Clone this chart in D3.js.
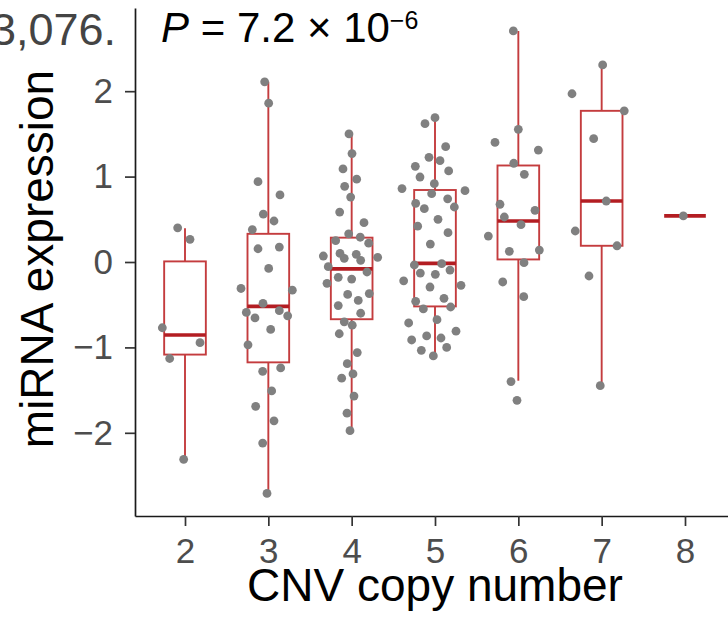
<!DOCTYPE html>
<html>
<head>
<meta charset="utf-8">
<script src="https://cdn.jsdelivr.net/npm/d3@7"></script>
<style>
  body { margin: 0; background: #fff; }
  svg { display: block; }
  text { font-family: "Liberation Sans", Arial, Helvetica, sans-serif; }
</style>
</head>
<body>
<svg id="chart" width="728" height="627"></svg>
<script>
// CNV copy number groups
const copyNumbers = [2, 3, 4, 5, 6, 7, 8];

// Box summaries per copy number (miRNA expression)
const whiskerLow  = [-2.31, -2.71, -1.975, -1.10, -1.39, -1.448, 0.54];
const quartile1   = [-1.084, -1.175, -0.67, -0.52, 0.03, 0.19, 0.54];
const medians     = [-0.855, -0.52, -0.08, -0.016, 0.48, 0.714, 0.54];
const quartile3   = [0.007, 0.33, 0.285, 0.843, 1.13, 1.77, 0.54];
const whiskerHigh = [0.395, 2.11, 1.51, 1.69, 2.705, 2.307, 0.54];

// Individual samples: expression values and horizontal jitter (in copy-number units)
const cn2Values = [0.40, 0.266, -0.77, -0.945, -1.13, -2.31];
const cn2Jitter = [-0.088, 0.06, -0.272, 0.18, -0.184, -0.016];

const cn3Values = [2.11, 1.86, 0.94, 0.785, 0.56, 0.48, 0.38, 0.155, 0.175, -0.075, -0.31, -0.33, -0.485,
                   -0.59, -0.655, -0.57, -0.63, -0.79, -0.97, -1.28, -1.24, -1.51, -1.69, -1.86, -2.12, -2.71];
const cn3Jitter = [-0.044, 0.004, -0.124, 0.14, -0.06, 0.068, -0.192, -0.124, 0.132, 0.004, -0.328, 0.288, -0.064,
                   -0.264, -0.16, 0.132, 0.232, 0.028, -0.244, -0.068, 0.148, 0.04, -0.152, 0.068, -0.068, -0.016];

const cn4Values = [1.50, 1.27, 1.09, 0.97, 0.886, 0.76, 0.585, 0.46, 0.33, 0.29, 0.25, 0.22, 0.07, 0.10, 0.043,
                   0.09, 0.02, 0.055, -0.055, -0.117, -0.25, -0.18, -0.20, -0.38, -0.37, -0.51, -0.45, -0.60,
                   -0.70, -0.74, -0.84, -1.06, -1.19, -1.36, -1.31, -1.57, -1.77, -1.975];
const cn4Jitter = [-0.032, 0.004, -0.104, 0.06, -0.084, -0.012, -0.144, 0.148, -0.036, 0.103, -0.192, 0.204, -0.34,
                   -0.14, -0.089, 0.055, 0.108, 0.312, -0.281, 0.184, -0.296, -0.161, 0, -0.048, 0.211, -0.161,
                   0.079, 0.108, -0.089, 0.007, -0.149, 0.067, -0.053, -0.12, 0.016, 0.028, -0.056, -0.02];

const cn5Values = [1.69, 1.62, 1.35, 1.226, 1.186, 1.12, 1.066, 0.995, 0.917, 0.86, 0.80, 0.835, 0.687, 0.74,
                   0.624, 0.644, 0.50, 0.42, 0.343, 0.21, -0.035, -0.02, -0.13, -0.144, -0.094, -0.22, -0.273,
                   -0.293, -0.425, -0.46, -0.55, -0.527, -0.675, -0.714, -0.81, -0.866, -0.89, -0.913, -1.0,
                   -1.034, -1.10];
const cn5Jitter = [0, -0.12, 0.128, -0.072, 0.06, -0.236, 0.164, -0.18, -0.008, -0.396, -0.04, 0.36, -0.232, 0.152,
                   -0.128, 0.232, 0.036, -0.208, 0.156, -0.056, -0.248, 0.08, -0.176, 0.004, 0.18, -0.376, 0.312,
                   -0.06, 0.108, -0.232, -0.14, 0.188, 0.024, -0.316, 0.252, -0.1, 0.072, -0.28, 0.14, -0.164,
                   -0.02];

const cn6Values = [2.705, 1.554, 1.40, 1.31, 1.156, 1.027, 0.676, 0.605, 0.527, 0.437, 0.304, 0.125, 0.14,
                   -0.008, -0.234, -0.406, -1.40, -1.62];
const cn6Jitter = [-0.06, 0, -0.28, 0.24, -0.055, 0.072, -0.22, 0.2, -0.168, 0.032, -0.36, -0.108, 0.252,
                   0.068, -0.187, 0.065, -0.088, -0.016];

const cn7Values = [2.307, 1.97, 1.77, 1.444, 0.714, 0.363, 0.19, -0.164, -1.448];
const cn7Jitter = [0.012, -0.356, 0.271, -0.096, 0.055, -0.317, 0.184, -0.152, -0.017];

const cn8Values = [0.54];
const cn8Jitter = [-0.02];

const yTickValues = [-2, -1, 0, 1, 2];

const svg = d3.select("#chart");

const x = d3.scaleLinear().domain([1.4, 8.6]).range([135, 735]);
const y = d3.scaleLinear().domain([-2.974, 2.974]).range([516, 8]);

const boxHalf = 0.25;
const boxColor = "#c43c3e";
const medianColor = "#b31d22";
const minusFmt = d => (d < 0 ? "\u2212" + Math.abs(d) : String(d));

// Axes
const yAxis = d3.axisLeft(y).tickValues(yTickValues).tickFormat(minusFmt)
  .tickSize(10).tickSizeOuter(0).tickPadding(12);
const gy = svg.append("g").attr("transform", `translate(${x.range()[0]},0)`).call(yAxis);

const xAxis = d3.axisBottom(x).tickValues(copyNumbers).tickFormat(d3.format("d"))
  .tickSize(10).tickSizeOuter(0).tickPadding(12);
const gx = svg.append("g").attr("transform", `translate(0,${y.range()[0]})`).call(xAxis);

[gx, gy].forEach(g => {
  g.attr("font-family", null).attr("font-size", null);
  g.select(".domain").attr("stroke", "#1a1a1a").attr("stroke-width", 1.7);
  g.selectAll(".tick line").attr("stroke", "#333").attr("stroke-width", 1.7);
  g.selectAll(".tick text").attr("fill", "#4d4d4d").style("font-size", "35px");
});

// Boxes
const stats = copyNumbers.map((cn, i) => ({
  cn, lo: whiskerLow[i], q1: quartile1[i], med: medians[i], q3: quartile3[i], hi: whiskerHigh[i]
}));

const boxes = svg.append("g").selectAll("g").data(stats).join("g");
boxes.append("line")
  .attr("x1", d => x(d.cn)).attr("x2", d => x(d.cn))
  .attr("y1", d => y(d.q3)).attr("y2", d => y(d.hi))
  .attr("stroke", boxColor).attr("stroke-width", 1.9);
boxes.append("line")
  .attr("x1", d => x(d.cn)).attr("x2", d => x(d.cn))
  .attr("y1", d => y(d.q1)).attr("y2", d => y(d.lo))
  .attr("stroke", boxColor).attr("stroke-width", 1.9);
boxes.filter(d => d.q3 > d.q1).append("rect")
  .attr("x", d => x(d.cn - boxHalf)).attr("width", d => x(d.cn + boxHalf) - x(d.cn - boxHalf))
  .attr("y", d => y(d.q3)).attr("height", d => y(d.q1) - y(d.q3))
  .attr("fill", "#fff").attr("stroke", boxColor).attr("stroke-width", 1.9);
boxes.append("line")
  .attr("x1", d => x(d.cn - boxHalf)).attr("x2", d => x(d.cn + boxHalf))
  .attr("y1", d => y(d.med)).attr("y2", d => y(d.med))
  .attr("stroke", medianColor).attr("stroke-width", 3.6);

// Jittered sample points
const groups = [
  [2, cn2Values, cn2Jitter], [3, cn3Values, cn3Jitter], [4, cn4Values, cn4Jitter],
  [5, cn5Values, cn5Jitter], [6, cn6Values, cn6Jitter], [7, cn7Values, cn7Jitter],
  [8, cn8Values, cn8Jitter]
];
const points = groups.flatMap(([cn, vals, jit]) => vals.map((v, i) => ({ xv: cn + jit[i], v })));
svg.append("g").selectAll("circle").data(points).join("circle")
  .attr("cx", d => x(d.xv)).attr("cy", d => y(d.v)).attr("r", 4.4)
  .attr("fill", "#808080");

// Axis titles
svg.append("text")
  .attr("x", (x.range()[0] + x.range()[1]) / 2).attr("y", 601)
  .attr("text-anchor", "middle").attr("fill", "#000").style("font-size", "46px")
  .text("CNV copy number");

svg.append("text")
  .attr("transform", `translate(53,${(y.range()[0] + y.range()[1]) / 2 - 3}) rotate(-90)`)
  .attr("text-anchor", "middle").attr("fill", "#000").style("font-size", "46px")
  .text("miRNA expression");

// Annotation with the test P value
const pText = svg.append("text").attr("x", 161).attr("y", 42).attr("fill", "#000").style("font-size", "42px");
pText.append("tspan").attr("font-style", "italic").text("P");
pText.append("tspan").text(" = 7.2 \u00d7 10");
pText.append("tspan").attr("dy", -13).style("font-size", "25px").text("\u22126");

// Tail of the neighbouring panel's caption
svg.append("text").attr("x", 116).attr("y", 45).attr("text-anchor", "end")
  .attr("fill", "#444").style("font-size", "45px").text("3,076.");
</script>
</body>
</html>
